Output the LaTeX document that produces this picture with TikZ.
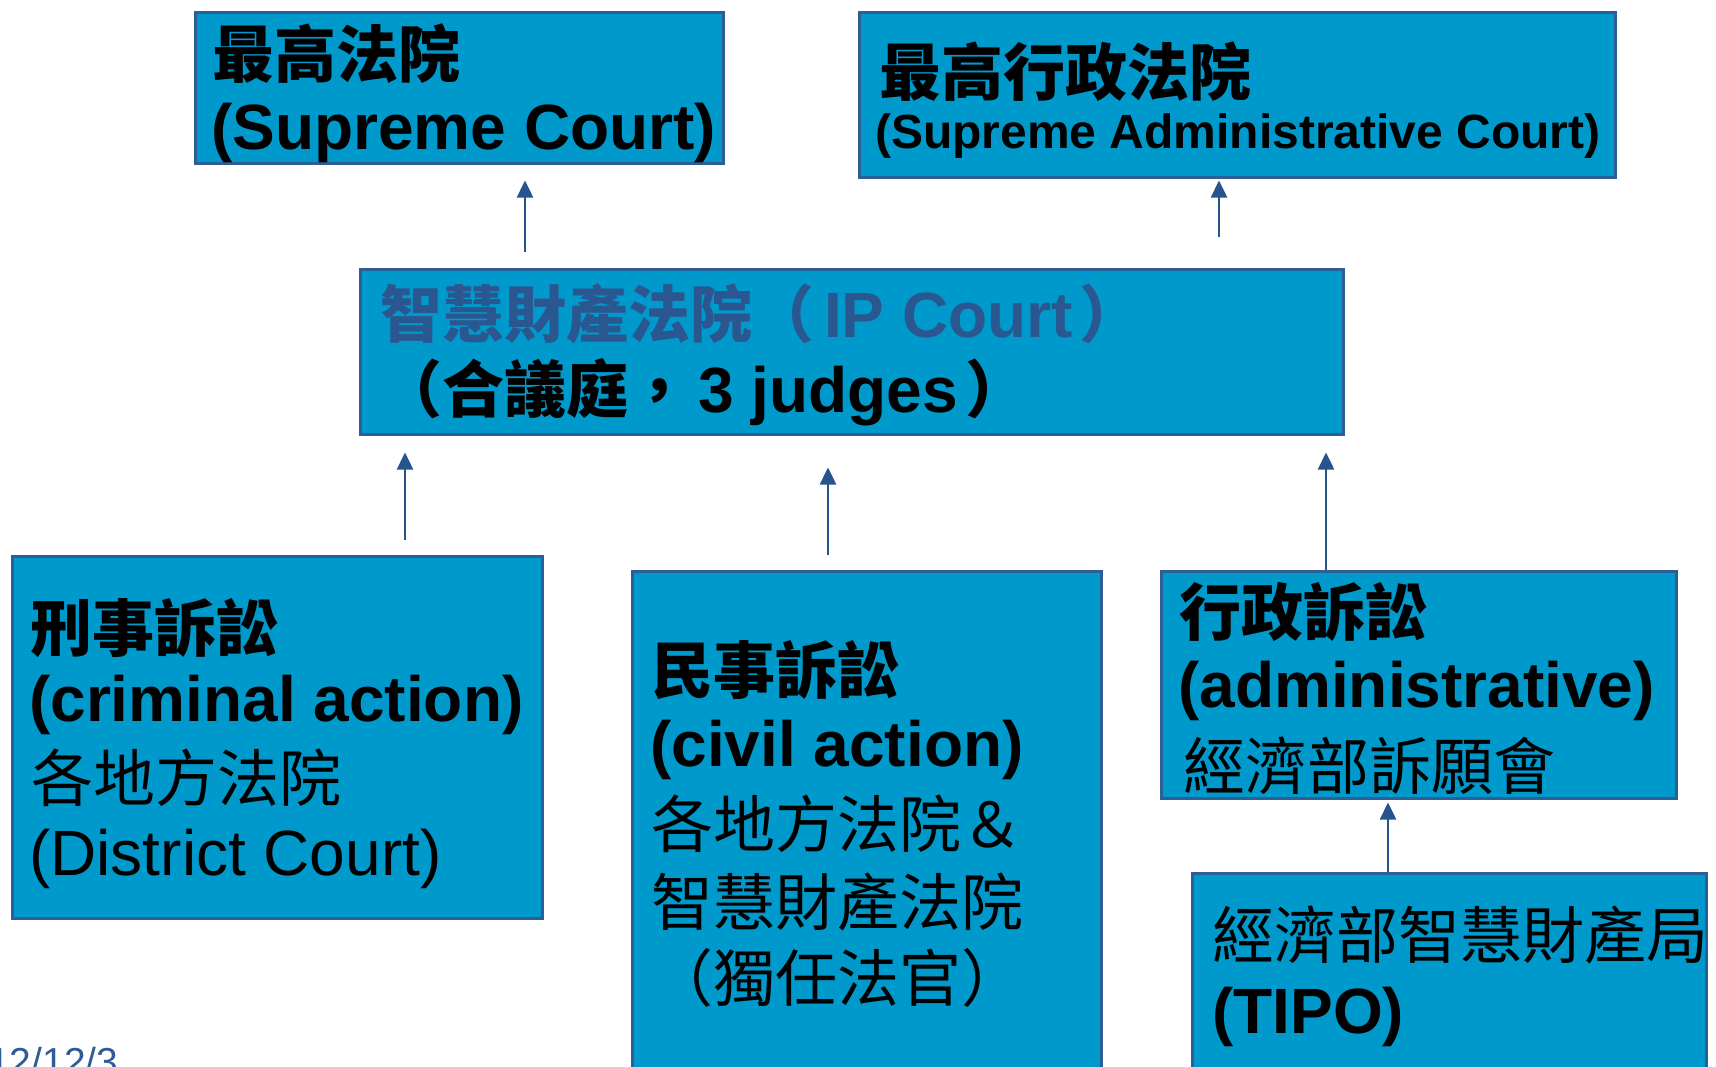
\documentclass[tikz,border=0pt]{standalone}
\usepackage{fontspec}
\setmainfont{Liberation Sans}
\newfontfamily\cjk{Noto Sans CJK TC}
\usetikzlibrary{arrows.meta}
\definecolor{boxfill}{RGB}{0,153,204}
\definecolor{boxline}{RGB}{46,94,150}
\definecolor{ipblue}{RGB}{43,87,145}
\definecolor{arrowblue}{RGB}{38,84,140}
\definecolor{datecol}{RGB}{47,92,150}
\newcommand{\cjkB}[1]{{\fontsize{62}{74}\cjk\bfseries #1}}
\newcommand{\cjkR}[1]{{\fontsize{62}{74}\cjk #1}}
\newcommand{\latB}[1]{{\fontsize{64}{76}\selectfont\bfseries #1}}
\newcommand{\latR}[1]{{\fontsize{64}{76}\selectfont #1}}
\begin{document}
\begin{tikzpicture}[x=1pt,y=-1pt,
  court/.style={draw=boxline, line width=2.5pt, fill=boxfill, anchor=north west, inner sep=0pt},
  txt/.style={anchor=base west, inner sep=0pt},
  arr/.style={draw=arrowblue, line width=2.5pt, -{Triangle[width=16pt,length=17pt]}}]
\useasboundingbox (0,0) rectangle (1716,1066);
\clip (0,0) rectangle (1716,1066);
\fill[white] (0,0) rectangle (1716,1066);
% boxes
\node[court, minimum width=528pt, minimum height=151pt] (sup) at (194,11) {};
\node[court, minimum width=756pt, minimum height=165pt] (sac) at (858,11) {};
\node[court, minimum width=983pt, minimum height=165pt] (ip) at (359,268) {};
\node[court, minimum width=530pt, minimum height=362pt] (crim) at (11,555) {};
\node[court, minimum width=469pt, minimum height=540pt] (civ) at (631,570) {};
\node[court, minimum width=515pt, minimum height=227pt] (adm) at (1160,570) {};
\node[court, minimum width=514pt, minimum height=240pt] (tipo) at (1191,872) {};
% texts
\node[txt] (sup1) at (212,77) {\cjkB{最高法院}};
\node[txt] (sup2) at (211,149) {\latB{(Supreme Court)}};
\node[txt] (sac1) at (879,95) {\cjkB{最高行政法院}};
\node[txt] (sac2) at (875,148) {{\fontsize{48}{58}\selectfont\bfseries (Supreme Administrative Court)}};
\node[txt, text=ipblue] (ip1) at (380,337) {\cjkB{智慧財產法院（}\kern10pt\latB{IP Court}\kern6pt\cjkB{）}};
\node[txt] (ip2) at (380,412) {\cjkB{（合議庭，}\kern8pt\latB{3 judges}\kern8pt\cjkB{）}};
\node[txt] (crim1) at (30,651) {\cjkB{刑事訴訟}};
\node[txt] (crim2) at (29,721) {\latB{(criminal action)}};
\node[txt] (crim3) at (31,801) {\cjkR{各地方法院}};
\node[txt] (crim4) at (29,875) {\latR{(District Court)}};
\node[txt] (civ1) at (651,693) {\cjkB{民事訴訟}};
\node[txt] (civ2) at (650,766) {\latB{(civil action)}};
\node[txt] (civ3) at (651,847) {\cjkR{各地方法院＆}};
\node[txt] (civ4) at (651,925) {\cjkR{智慧財產法院}};
\node[txt] (civ5) at (651,1001) {\cjkR{（獨任法官）}};
\node[txt] (adm1) at (1179,635) {\cjkB{行政訴訟}};
\node[txt] (adm2) at (1178,707) {\latB{(administrative)}};
\node[txt] (adm3) at (1183,789) {\cjkR{經濟部訴願會}};
\node[txt] (tipo1) at (1212,958) {\cjkR{經濟部智慧財產局}};
\node[txt] (tipo2) at (1212,1033) {\latB{(TIPO)}};
\node[txt, text=datecol] (date) at (-12,1075) {{\fontsize{39}{46}\selectfont 12/12/3}};
% arrows
\coordinate (xa) at (525,0);
\coordinate (xb) at (1219,0);
\coordinate (xc) at (405,0);
\coordinate (xd) at (828,0);
\coordinate (xe) at (1326,0);
\coordinate (xf) at (1388,0);
\draw[arr, shorten <=16pt, shorten >=16pt] (ip.north -| xa) -- (sup.south -| xa);
\draw[arr, shorten <=31pt, shorten >=2pt] (ip.north -| xb) -- (sac.south -| xb);
\draw[arr, shorten <=15pt, shorten >=17pt] (crim.north -| xc) -- (ip.south -| xc);
\draw[arr, shorten <=15pt, shorten >=32pt] (civ.north -| xd) -- (ip.south -| xd);
\draw[arr, shorten >=17pt] (adm.north -| xe) -- (ip.south -| xe);
\draw[arr, shorten >=3pt] (tipo.north -| xf) -- (adm.south -| xf);
\end{tikzpicture}
\end{document}
